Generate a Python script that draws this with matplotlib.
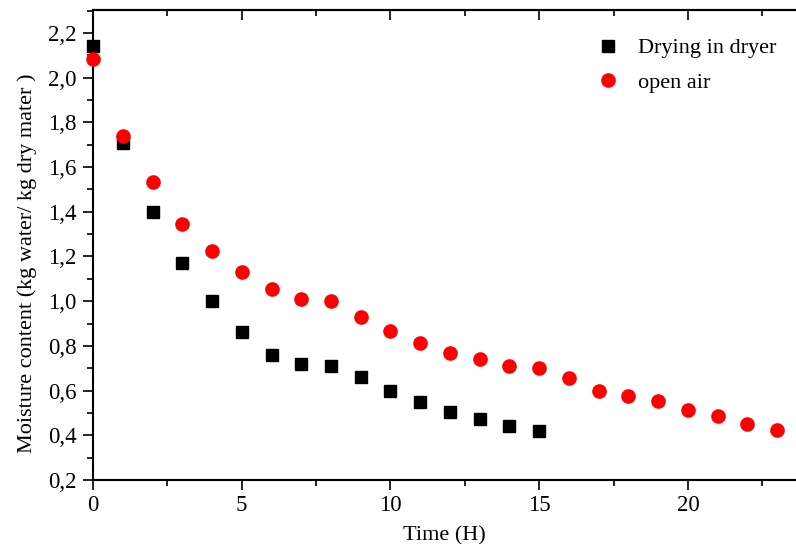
import matplotlib
matplotlib.use("Agg")
import matplotlib.pyplot as plt
from matplotlib.ticker import MultipleLocator, FuncFormatter

plt.rcParams['font.family'] = ['Liberation Serif', 'DejaVu Serif']

time_dryer = list(range(0, 16))
dryer = [2.14, 1.71, 1.40, 1.17, 1.00, 0.86, 0.76, 0.72, 0.71, 0.66, 0.60, 0.55, 0.505, 0.475, 0.44, 0.42]
time_air = list(range(0, 24))
open_air = [2.085, 1.74, 1.535, 1.345, 1.225, 1.13, 1.055, 1.01, 1.00, 0.93, 0.865, 0.815,
            0.77, 0.74, 0.71, 0.70, 0.655, 0.60, 0.578, 0.553, 0.513, 0.485, 0.452, 0.423]

W, H = 796, 544
fig = plt.figure(figsize=(W/100, H/100), dpi=100)
left, right, top, bottom = 93, 796, 10, 480
ax = fig.add_axes([left/W, 1-bottom/H, (right-left)/W, (bottom-top)/H])

ax.plot(time_dryer, dryer, 's', color='black', markersize=8, label='Drying in dryer', clip_on=False, zorder=3)
ax.plot(time_air, open_air, 'o', color='#ff0000', markersize=9.5, label='open air', clip_on=False, zorder=3)

ax.set_xlim(0, (right-left)/29.75)
ax.set_ylim(0.2, 0.2 + (bottom-top)/223.5)

ax.xaxis.set_major_locator(MultipleLocator(5))
ax.xaxis.set_minor_locator(MultipleLocator(2.5))
ax.yaxis.set_major_locator(MultipleLocator(0.2))
ax.yaxis.set_minor_locator(MultipleLocator(0.1))
ax.yaxis.set_major_formatter(FuncFormatter(lambda v, p: f"{v:.1f}".replace('.', ',')))
ax.xaxis.set_major_formatter(FuncFormatter(lambda v, p: f"{v:.0f}"))

ax.tick_params(axis='both', which='both', direction='out', labelsize=16.5, width=1.2)
ax.tick_params(axis='both', which='major', length=7)
ax.tick_params(axis='both', which='minor', length=4)
ax.tick_params(axis='x', which='major', pad=4)
ax.tick_params(axis='y', which='major', pad=5)
ax.spines['right'].set_visible(False)
for s in ['left', 'bottom', 'top']:
    ax.spines[s].set_linewidth(1.5)

# top ticks inward
ax2 = ax.twiny()
ax2.set_xlim(ax.get_xlim())
ax2.xaxis.set_major_locator(MultipleLocator(5))
ax2.xaxis.set_minor_locator(MultipleLocator(2.5))
ax2.tick_params(axis='x', which='both', direction='in', labeltop=False, width=1.2)
ax2.tick_params(axis='x', which='major', length=7)
ax2.tick_params(axis='x', which='minor', length=4)
for s in ['left', 'bottom', 'right']:
    ax2.spines[s].set_visible(False)
ax2.spines['top'].set_linewidth(1.5)

ax.set_xlabel('Time (H)', fontsize=16, labelpad=7)
ax.set_ylabel('Moisture content (kg water/ kg dry mater )', fontsize=16, labelpad=8)
ax.yaxis.label.set_y(0.462)

ax.legend(loc='upper left', bbox_to_anchor=((586-left)/(right-left), 1-(29-top)/(bottom-top)),
          frameon=False, fontsize=16, handletextpad=0.75, labelspacing=0.62, borderaxespad=0,
          handlelength=1.2)

fig.savefig('out.png', dpi=100)
